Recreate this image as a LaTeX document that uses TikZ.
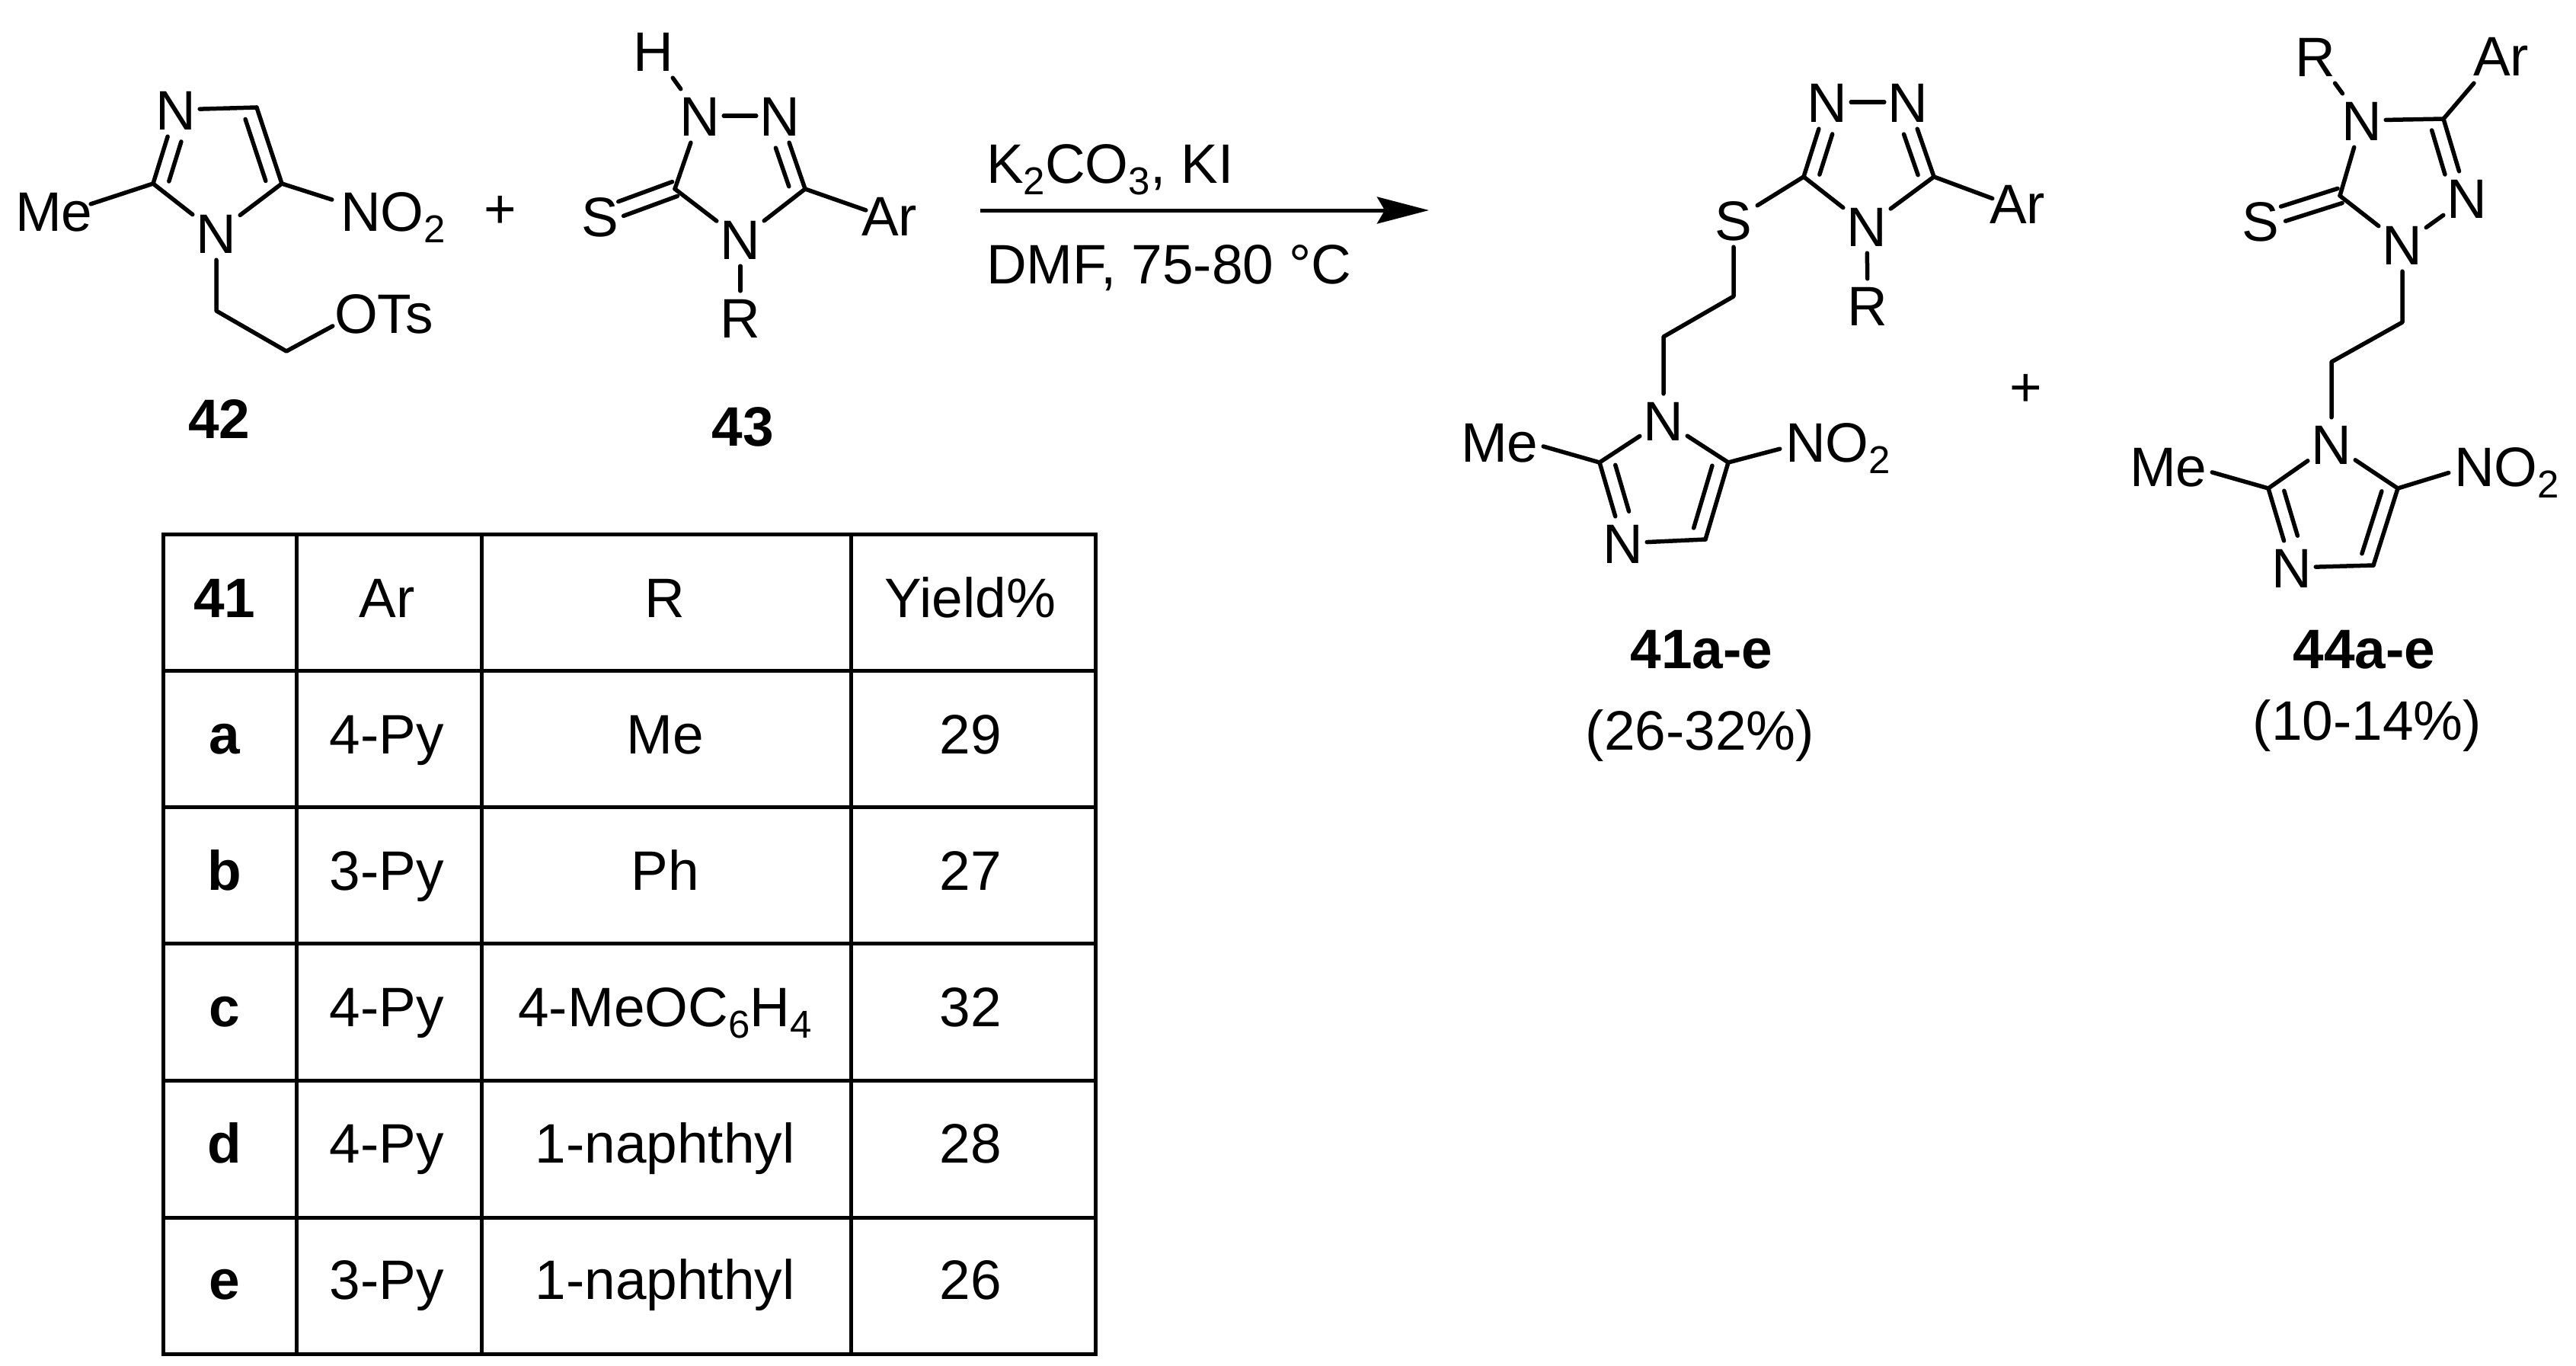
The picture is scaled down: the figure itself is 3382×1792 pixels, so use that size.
\documentclass[tikz,border=0pt]{standalone}
\usepackage{fontspec}
\setmainfont{Liberation Sans}
\usetikzlibrary{calc,arrows.meta}
\newcommand\Sb[1]{\raisebox{-15pt}{\fontsize{51}{51}\selectfont #1}}
% text centred on a point, by its cap height
\newcommand\Ctr[1]{\makebox[0pt][c]{\raisebox{-26pt}[0pt][0pt]{#1}}}
% text placed with an offset from the point: left offset, depth of baseline
\newcommand\Lb[3]{\makebox[0pt][l]{\hspace{-#1pt}\raisebox{-#2pt}[0pt][0pt]{#3}}}
\newcommand\dblR[4]{%
  \draw[bond] (#1) -- (#2);
  \draw[bond,shorten <=#3pt,shorten >=#4pt] ($(#1)!19pt!-90:(#2)$) -- ($(#2)!19pt!90:(#1)$);}
\newcommand\dblL[4]{%
  \draw[bond] (#1) -- (#2);
  \draw[bond,shorten <=#3pt,shorten >=#4pt] ($(#1)!19pt!90:(#2)$) -- ($(#2)!19pt!-90:(#1)$);}
\newcommand\dblC[3]{%
  \draw[bond,shorten <=#3pt] ($(#1)!10pt!-90:(#2)$) -- ($(#2)!10pt!90:(#1)$);
  \draw[bond,shorten <=#3pt] ($(#1)!10pt!90:(#2)$) -- ($(#2)!10pt!-90:(#1)$);}
\tikzset{
  atom/.style={rectangle,inner sep=0pt,minimum width=62pt,minimum height=70pt,
    font=\fontsize{73}{88}\selectfont},
  arlabel/.style={atom,minimum width=40pt},
  free/.style={inner sep=0pt,font=\fontsize{73}{88}\selectfont},
  boldfree/.style={free,font=\fontsize{73}{88}\selectfont\bfseries},
  bond/.style={line width=5.5pt,line cap=round,line join=round},
  gridline/.style={line width=5pt,line cap=rect},
  rxnarrow/.style={line width=5pt,-{Stealth[length=68pt,width=35pt,inset=10pt]}},
}
\begin{document}
\begin{tikzpicture}[x=1pt,y=-1pt]
\useasboundingbox (0,0) rectangle (3382,1792);

% ---------- 42
\node[atom] (an1) at (284,306) {\Ctr{N}};
\node[atom] (an3) at (231,144) {\Ctr{N}};
\coordinate (ac2) at (201,241);
\coordinate (ac4) at (337,141);
\coordinate (ac5) at (370,241);
\coordinate (ach1) at (284,408);
\coordinate (ach2) at (376,461);
\node[atom] (ame) at (88,278) {\Lb{68}{25}{Me}};
\node[atom] (ano) at (467,272) {\Lb{20}{31}{NO\Sb{2}}};
\node[atom] (aots) at (468,411) {\Lb{29}{26}{OTs}};
\dblR{ac2}{an3}{9}{38}
\dblR{ac4}{ac5}{10}{10}
\draw[bond] (an3) -- (ac4);
\draw[bond] (ac5) -- (an1);
\draw[bond] (an1) -- (ac2);
\draw[bond] (ac2) -- (ame);
\draw[bond] (ac5) -- (ano);
\draw[bond] (an1) -- (ach1) -- (ach2) -- (aots);
\node[boldfree] (l42) at (288,549) {\Ctr{42}};
\node[free] (plus1) at (657,273) {\Ctr{+}};

% ---------- 43
\node[atom] (bh) at (858,67) {\Ctr{H}};
\node[atom] (bn1) at (919,152) {\Ctr{N}};
\node[atom] (bn2) at (1024,152) {\Ctr{N}};
\coordinate (bc3) at (1057,248);
\coordinate (bc5) at (886,248);
\node[atom] (bn4) at (972,314) {\Ctr{N}};
\node[atom] (br) at (972,417) {\Ctr{R}};
\node[atom] (bs) at (788,284) {\Ctr{S}};
\node[arlabel] (bar) at (1157,283) {\Lb{26}{26}{Ar}};
\draw[bond] (bh) -- (bn1);
\draw[bond] (bn1) -- (bn2);
\dblR{bn2}{bc3}{38}{10}
\draw[bond] (bc3) -- (bn4);
\draw[bond] (bn4) -- (bc5);
\draw[bond] (bc5) -- (bn1);
\draw[bond] (bn4) -- (br);
\draw[bond] (bc3) -- (bar);
\dblC{bs}{bc5}{29}
\node[boldfree] (l43) at (975,559) {\Ctr{43}};

% ---------- arrow and conditions
\coordinate (arrowstart) at (1287,276);
\coordinate (arrowend) at (1876,276);
\draw[rxnarrow] (arrowstart) -- (arrowend);
\node[free,anchor=base west] (reag1) at (1295,240) {K\Sb{2}CO\Sb{3}, KI};
\node[free,anchor=base west] (reag2) at (1295,372) {DMF, 75-80 °C};

% ---------- 41
\node[atom] (cn1) at (2399,134) {\Ctr{N}};
\node[atom] (cn2) at (2505,134) {\Ctr{N}};
\coordinate (cc3) at (2539,232);
\coordinate (cc5) at (2368,232);
\node[atom] (cn4) at (2451,297) {\Ctr{N}};
\node[atom] (cr) at (2452,401) {\Ctr{R}};
\node[arlabel] (car) at (2636,268) {\Lb{24}{25}{Ar}};
\node[atom] (cs) at (2276,289) {\Ctr{S}};
\coordinate (cch1) at (2276,389);
\coordinate (cch2) at (2184,442);
\node[atom] (cin1) at (2184,552) {\Ctr{N}};
\coordinate (cic2) at (2100,607);
\coordinate (cic5) at (2269,607);
\node[atom] (cin3) at (2131,713) {\Ctr{N}};
\coordinate (cic4) at (2239,708);
\node[atom] (cme) at (1995,577) {\Lb{77}{29}{Me}};
\node[atom] (cno) at (2368,581) {\Lb{24}{25}{NO\Sb{2}}};
\dblR{cc5}{cn1}{9}{38}
\draw[bond] (cn1) -- (cn2);
\dblR{cn2}{cc3}{38}{9}
\draw[bond] (cc3) -- (cn4);
\draw[bond] (cn4) -- (cc5);
\draw[bond] (cn4) -- (cr);
\draw[bond] (cc3) -- (car);
\draw[bond] (cc5) -- (cs);
\draw[bond] (cs) -- (cch1) -- (cch2) -- (cin1);
\draw[bond] (cin1) -- (cic2);
\dblL{cic2}{cin3}{9}{38}
\draw[bond] (cin3) -- (cic4);
\dblR{cic5}{cic4}{10}{10}
\draw[bond] (cic5) -- (cin1);
\draw[bond] (cic2) -- (cme);
\draw[bond] (cic5) -- (cno);
\node[boldfree] (l41) at (2234,851) {\Ctr{41a-e}};
\node[free] (y41) at (2232,958) {\Ctr{(26-32\%)}};
\node[free] (plus2) at (2660,507) {\Ctr{+}};

% ---------- 44
\node[atom] (dr) at (3040,74) {\Ctr{R}};
\node[atom] (dar) at (3278,74) {\Lb{31}{25}{Ar}};
\node[atom] (dn4) at (3101,158) {\Ctr{N}};
\coordinate (dc3) at (3208,156);
\node[atom] (dn2) at (3239,260) {\Ctr{N}};
\node[atom] (dn1) at (3154,321) {\Ctr{N}};
\coordinate (dc5) at (3072,257);
\node[atom] (ds) at (2968,290) {\Ctr{S}};
\coordinate (dch1) at (3154,423);
\coordinate (dch2) at (3061,475);
\node[atom] (din1) at (3061,583) {\Ctr{N}};
\coordinate (dic2) at (2978,641);
\coordinate (dic5) at (3148,641);
\node[atom] (din3) at (3009,745) {\Ctr{N}};
\coordinate (dic4) at (3116,742);
\node[atom] (dme) at (2873,611) {\Lb{77}{27}{Me}};
\node[atom] (dno) at (3246,611) {\Lb{24}{27}{NO\Sb{2}}};
\draw[bond] (dr) -- (dn4);
\draw[bond] (dar) -- (dc3);
\draw[bond] (dn4) -- (dc3);
\dblR{dc3}{dn2}{10}{38}
\draw[bond] (dn2) -- (dn1);
\draw[bond] (dn1) -- (dc5);
\draw[bond] (dc5) -- (dn4);
\dblC{ds}{dc5}{31}
\draw[bond] (dn1) -- (dch1) -- (dch2) -- (din1);
\draw[bond] (din1) -- (dic2);
\dblL{dic2}{din3}{9}{38}
\draw[bond] (din3) -- (dic4);
\dblR{dic5}{dic4}{10}{10}
\draw[bond] (dic5) -- (din1);
\draw[bond] (dic2) -- (dme);
\draw[bond] (dic5) -- (dno);
\node[boldfree] (l44) at (3104,851) {\Ctr{44a-e}};
\node[free] (y44) at (3108,945) {\Ctr{(10-14\%)}};

% ---------- table
\foreach \ty in {701,880,1059,1238,1418,1598,1777}
  \draw[gridline] (214,\ty) -- (1438,\ty);
\foreach \tx in {214,389,632,1117,1438}
  \draw[gridline] (\tx,701) -- (\tx,1777);
\foreach \i/\ca/\cb/\cc/\cd in {
   0/41/Ar/R/Yield\%,
   1/a/4-Py/Me/29,
   2/b/3-Py/Ph/27,
   3/c/4-Py/4-MeOC\Sb{6}H\Sb{4}/32,
   4/d/4-Py/1-naphthyl/28,
   5/e/3-Py/1-naphthyl/26}{
  \pgfmathsetmacro\ty{810+179*\i}
  \node[boldfree,anchor=base] (t\i a) at (295,\ty) {\ca};
  \node[free,anchor=base] (t\i b) at (508,\ty) {\cb};
  \node[free,anchor=base] (t\i c) at (873,\ty) {\cc};
  \node[free,anchor=base] (t\i d) at (1274,\ty) {\cd};
}
\end{tikzpicture}
\end{document}
